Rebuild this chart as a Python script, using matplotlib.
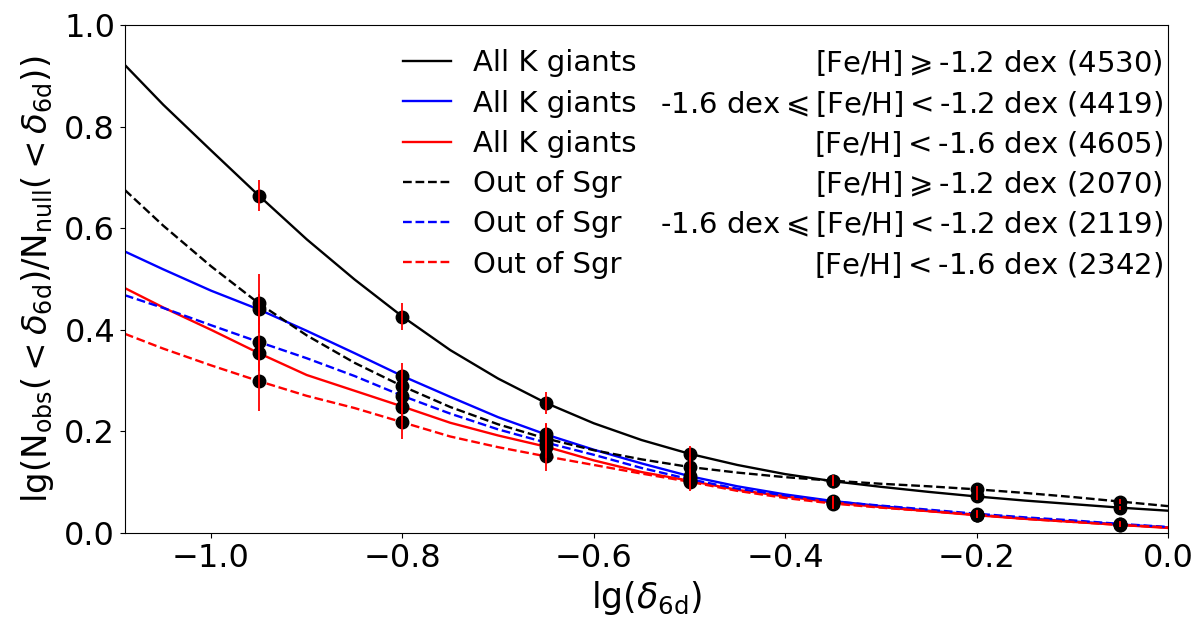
import matplotlib
matplotlib.use('Agg')
import matplotlib.pyplot as plt
import numpy as np

# curves on a common grid of lg(delta_6d)
lgd = [-1.09, -1.05, -1.0, -0.95, -0.9, -0.85, -0.8, -0.75, -0.7, -0.65, -0.6, -0.55,
       -0.5, -0.45, -0.4, -0.35, -0.3, -0.25, -0.2, -0.15, -0.1, -0.05, 0.0]

allk_hi = [0.921, 0.843, 0.753, 0.664, 0.578, 0.499, 0.426, 0.360, 0.304, 0.256, 0.216, 0.183,
           0.156, 0.134, 0.116, 0.102, 0.091, 0.081, 0.072, 0.064, 0.057, 0.050, 0.044]
allk_mid = [0.554, 0.519, 0.477, 0.440, 0.398, 0.354, 0.309, 0.268, 0.228, 0.194, 0.164, 0.137,
            0.112, 0.092, 0.076, 0.063, 0.053, 0.044, 0.036, 0.029, 0.023, 0.017, 0.011]
allk_lo = [0.482, 0.444, 0.400, 0.354, 0.311, 0.280, 0.249, 0.217, 0.192, 0.170, 0.143, 0.120,
           0.103, 0.085, 0.072, 0.060, 0.051, 0.043, 0.035, 0.028, 0.022, 0.016, 0.010]
sgr_hi = [0.675, 0.605, 0.525, 0.452, 0.389, 0.335, 0.289, 0.248, 0.214, 0.186, 0.163, 0.145,
          0.130, 0.119, 0.110, 0.103, 0.097, 0.092, 0.086, 0.079, 0.071, 0.062, 0.053]
sgr_mid = [0.468, 0.443, 0.409, 0.376, 0.344, 0.309, 0.270, 0.235, 0.204, 0.178, 0.154, 0.128,
           0.106, 0.087, 0.074, 0.062, 0.054, 0.046, 0.038, 0.031, 0.025, 0.018, 0.012]
sgr_lo = [0.392, 0.363, 0.330, 0.299, 0.270, 0.246, 0.218, 0.190, 0.169, 0.151, 0.134, 0.117,
          0.101, 0.083, 0.069, 0.058, 0.050, 0.043, 0.036, 0.028, 0.022, 0.016, 0.011]

# binned points with error bars
pts_x = [-0.95, -0.8, -0.65, -0.5, -0.35, -0.2, -0.05]
err_allk = [0.030, 0.026, 0.022, 0.015, 0.010, 0.006, 0.004]
err_sgr = [0.058, 0.032, 0.028, 0.019, 0.011, 0.007, 0.005]

names = ['All K giants', 'All K giants', 'All K giants',
         'Out of Sgr', 'Out of Sgr', 'Out of Sgr']
feh = [r'[Fe/H]$\geqslant$-1.2 dex (4530)',
       r'-1.6 dex$\leqslant$[Fe/H]$<$-1.2 dex (4419)',
       r'[Fe/H]$<$-1.6 dex (4605)',
       r'[Fe/H]$\geqslant$-1.2 dex (2070)',
       r'-1.6 dex$\leqslant$[Fe/H]$<$-1.2 dex (2119)',
       r'[Fe/H]$<$-1.6 dex (2342)']

series = [allk_hi, allk_mid, allk_lo, sgr_hi, sgr_mid, sgr_lo]
errs = [err_allk, err_allk, err_allk, err_sgr, err_sgr, err_sgr]
colors = ['k', 'b', 'r', 'k', 'b', 'r']
styles = ['-', '-', '-', '--', '--', '--']

fig = plt.figure(figsize=(12.01, 6.22), dpi=100)
ax = fig.add_axes([0.104, 0.143, 0.8685, 0.817])

x = np.array(lgd)
for yy, c, ls, nm in zip(series, colors, styles, names):
    ax.plot(x, yy, color=c, ls=ls, lw=1.7, label=nm, zorder=2)

for yy, ee in zip(series, errs):
    yy = np.array(yy)
    idx = [np.argmin(abs(x - p)) for p in pts_x]
    ax.plot(pts_x, yy[idx], 'o', color='k', ms=9, zorder=3)
    ax.errorbar(pts_x, yy[idx], yerr=ee, fmt='none', ecolor='r', elinewidth=1.3, zorder=4)

ax.set_xlim(-1.09, 0.0)
ax.set_ylim(0.0, 1.0)
ax.set_xticks(np.arange(-1.0, 0.01, 0.2))
ax.set_yticks(np.arange(0.0, 1.01, 0.2))
ax.tick_params(labelsize=23)
ax.set_xlabel(r'lg($\delta_{\rm 6d}$)', fontsize=25)
ax.set_ylabel(r'lg(N$_{\rm obs}( < \delta_{\rm 6d})$/N$_{\rm null}( < \delta_{\rm 6d})$)',
              fontsize=24.5, labelpad=6)

leg = ax.legend(loc='upper left', bbox_to_anchor=(0.2665, 0.952), frameon=False,
                fontsize=21, handlelength=1.65, handletextpad=0.75,
                labelspacing=0.42, borderpad=0, borderaxespad=0)

fig.canvas.draw()

# right-hand column of the legend
for t, s in zip(leg.get_texts(), feh):
    ax.annotate(s, xy=(0.995, 0.5), xycoords=(ax.transAxes, t),
                ha='right', va='center', fontsize=21, zorder=6)

fig.savefig('out.png', dpi=100)
